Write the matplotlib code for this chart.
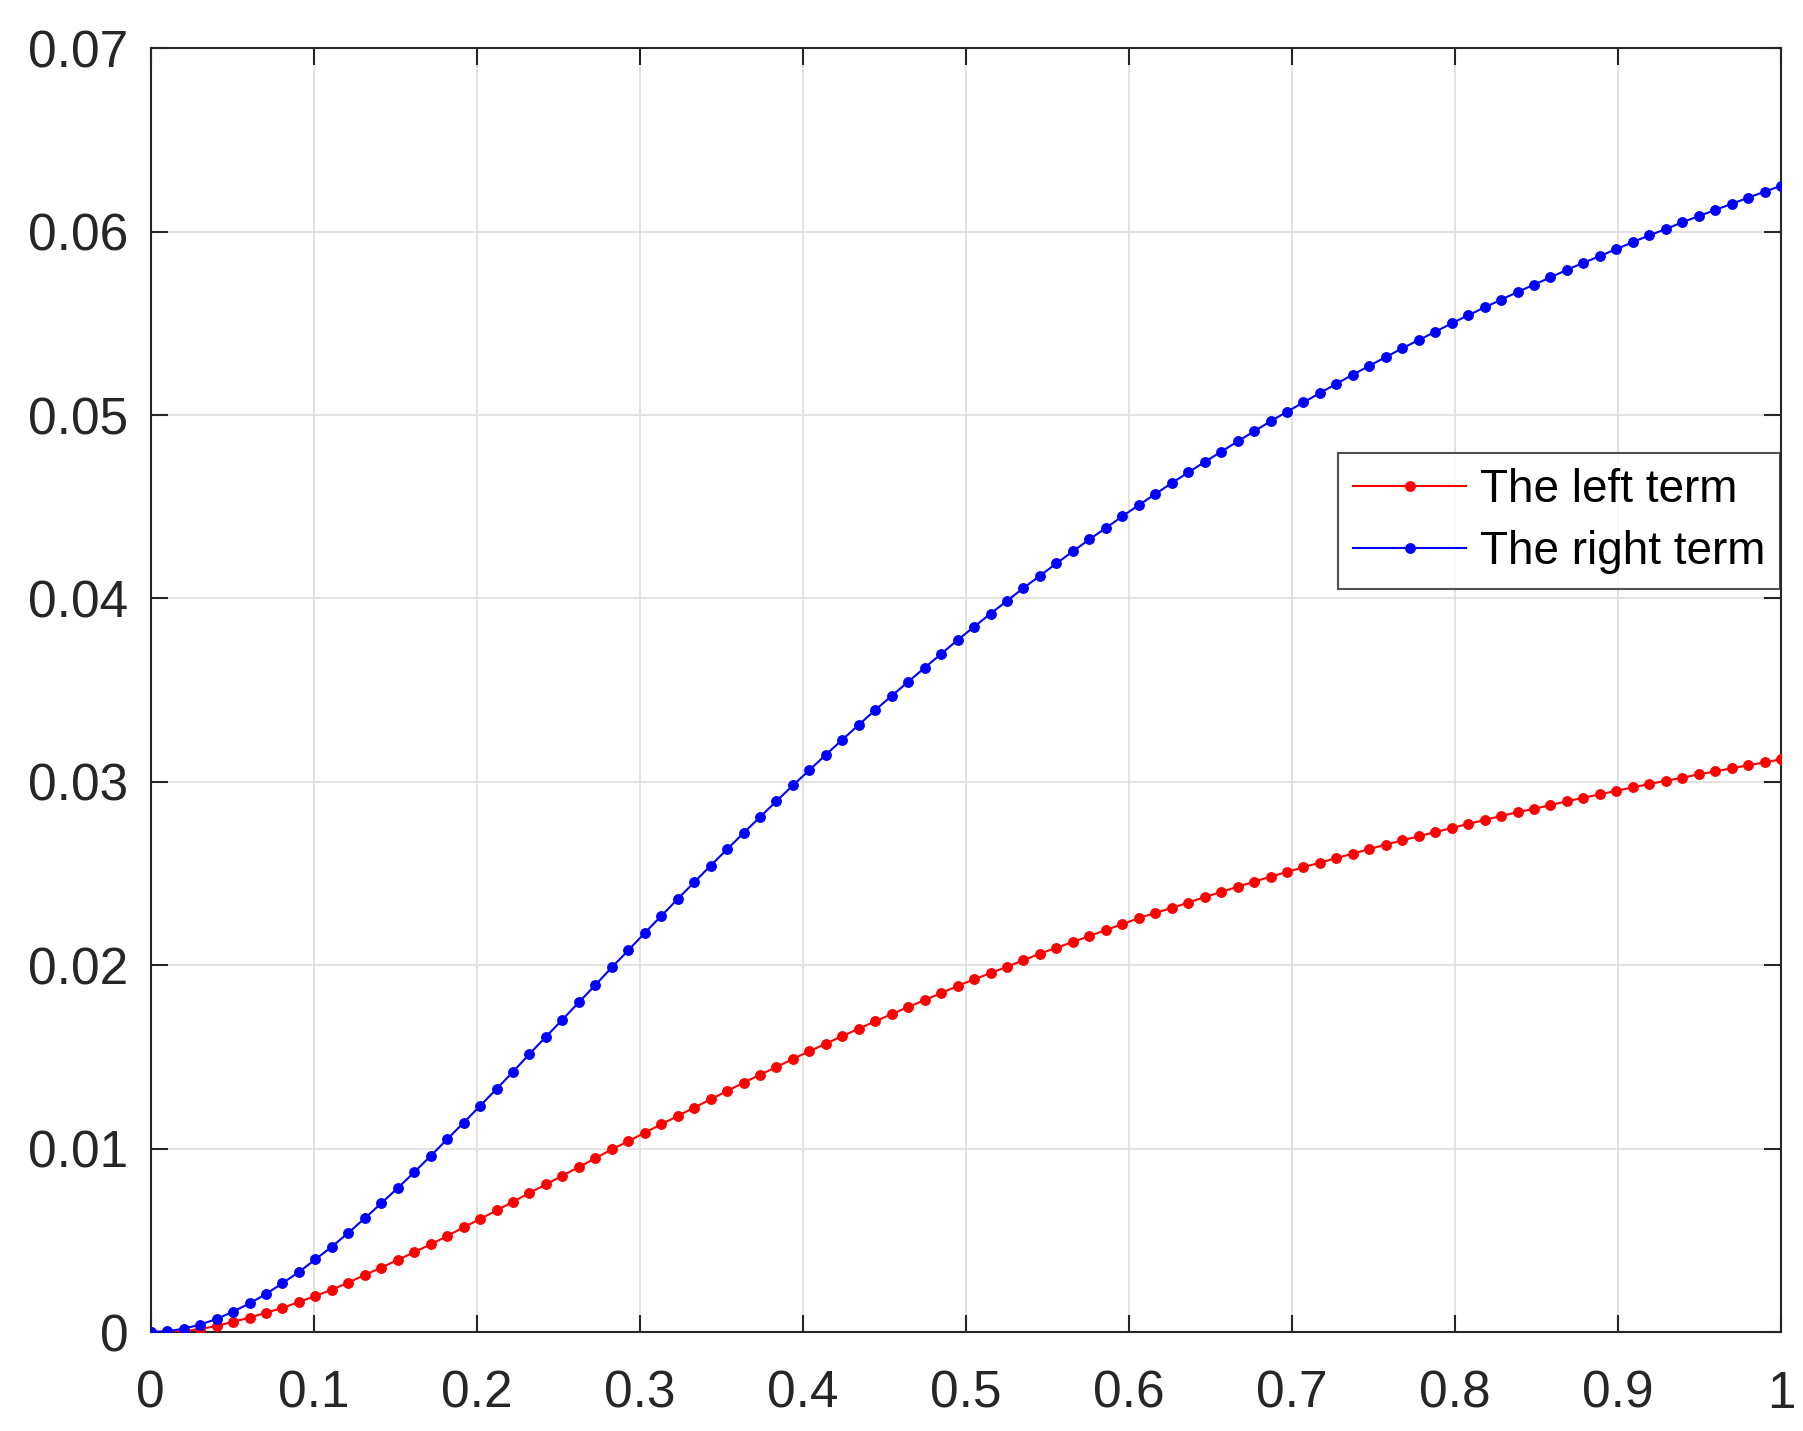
import numpy as np
import matplotlib
matplotlib.use("Agg")
import matplotlib.pyplot as plt

# sample positions: 100 evenly spaced points on [0, 1]
x = np.linspace(0.0, 1.0, 100)

left_term = [
    0.0, 0.00002, 0.00005, 0.00016, 0.00033, 0.00056, 0.00078, 0.00105, 0.00131, 0.00164,
    0.00196, 0.00231, 0.00269, 0.00311, 0.00351, 0.00393, 0.00435, 0.00478, 0.00523, 0.00571,
    0.00616, 0.00663, 0.00710, 0.00758, 0.00805, 0.00852, 0.00900, 0.00947, 0.00996, 0.01040,
    0.01087, 0.01132, 0.01178, 0.01223, 0.01269, 0.01314, 0.01359, 0.01403, 0.01445, 0.01489,
    0.01531, 0.01572, 0.01614, 0.01654, 0.01694, 0.01734, 0.01772, 0.01810, 0.01848, 0.01887,
    0.01923, 0.01957, 0.01992, 0.02027, 0.02063, 0.02095, 0.02127, 0.02159, 0.02192, 0.02224,
    0.02257, 0.02285, 0.02312, 0.02341, 0.02372, 0.02399, 0.02428, 0.02455, 0.02483, 0.02508,
    0.02535, 0.02559, 0.02585, 0.02608, 0.02634, 0.02657, 0.02681, 0.02703, 0.02726, 0.02748,
    0.02770, 0.02792, 0.02814, 0.02834, 0.02853, 0.02873, 0.02894, 0.02913, 0.02932, 0.02951,
    0.02970, 0.02988, 0.03006, 0.03022, 0.03041, 0.03057, 0.03074, 0.03090, 0.03106, 0.03123,
]

right_term = [
    0.0, 0.00004, 0.00018, 0.00040, 0.00071, 0.00111, 0.00156, 0.00207, 0.00266, 0.00327,
    0.00396, 0.00465, 0.00541, 0.00620, 0.00702, 0.00785, 0.00871, 0.00960, 0.01051, 0.01141,
    0.01233, 0.01325, 0.01419, 0.01516, 0.01610, 0.01703, 0.01798, 0.01892, 0.01988, 0.02081,
    0.02176, 0.02268, 0.02361, 0.02452, 0.02543, 0.02632, 0.02721, 0.02808, 0.02895, 0.02981,
    0.03064, 0.03148, 0.03230, 0.03311, 0.03392, 0.03469, 0.03546, 0.03622, 0.03698, 0.03773,
    0.03846, 0.03917, 0.03987, 0.04057, 0.04124, 0.04191, 0.04257, 0.04322, 0.04384, 0.04448,
    0.04509, 0.04569, 0.04629, 0.04687, 0.04744, 0.04800, 0.04856, 0.04911, 0.04966, 0.05018,
    0.05069, 0.05120, 0.05171, 0.05220, 0.05269, 0.05316, 0.05364, 0.05409, 0.05454, 0.05500,
    0.05544, 0.05587, 0.05629, 0.05671, 0.05711, 0.05751, 0.05792, 0.05830, 0.05867, 0.05905,
    0.05943, 0.05980, 0.06014, 0.06051, 0.06085, 0.06118, 0.06152, 0.06185, 0.06218, 0.06250,
]

series_labels = ["The left term", "The right term"]
xticks = [0, 0.1, 0.2, 0.3, 0.4, 0.5, 0.6, 0.7, 0.8, 0.9, 1]
xticklabels = ["0", "0.1", "0.2", "0.3", "0.4", "0.5", "0.6", "0.7", "0.8", "0.9", "1"]
yticks = [0, 0.01, 0.02, 0.03, 0.04, 0.05, 0.06, 0.07]
yticklabels = ["0", "0.01", "0.02", "0.03", "0.04", "0.05", "0.06", "0.07"]

plt.rcParams['font.family'] = ['Liberation Sans', 'DejaVu Sans']

W, H = 1803, 1431
fig = plt.figure(figsize=(W / 100, H / 100), dpi=100)
ax = fig.add_axes([150.7 / W, (H - 1332) / H, (1781 - 150.7) / W, (1332 - 48.3) / H])

dark = '#262626'
ax.plot(x, left_term, color='#ff0000', marker='o', markersize=6.8, linewidth=1.5,
        label=series_labels[0], zorder=3)
ax.plot(x, right_term, color='#0000ff', marker='o', markersize=6.8, linewidth=1.5,
        label=series_labels[1], zorder=4)

ax.set_xlim(0, 1)
ax.set_ylim(0, 0.07)
ax.set_xticks(xticks)
ax.set_xticklabels(xticklabels)
ax.set_yticks(yticks)
ax.set_yticklabels(yticklabels)

ax.grid(True, color='#dfdfdf', linewidth=1.3, zorder=0)
ax.set_axisbelow(True)
for s in ax.spines.values():
    s.set_color(dark)
    s.set_linewidth(1.5)
ax.tick_params(axis='both', which='both', direction='in', length=12, width=1.5,
               color=dark, labelcolor=dark, labelsize=37, top=True, right=True)
ax.tick_params(axis='x', pad=27)
ax.tick_params(axis='y', pad=16)

leg = ax.legend(loc='upper right', bbox_to_anchor=(1780 / W, (H - 453.3) / H),
                bbox_transform=fig.transFigure, fontsize=33, frameon=True,
                fancybox=False, borderpad=0.33, handlelength=2.45, handletextpad=0.3,
                labelspacing=0.39, borderaxespad=0, markerscale=1.0)
leg.get_frame().set_edgecolor(dark)
leg.get_frame().set_linewidth(1.5)
for t in leg.get_texts():
    t.set_color('black')

fig.savefig('out.png', dpi=100)
